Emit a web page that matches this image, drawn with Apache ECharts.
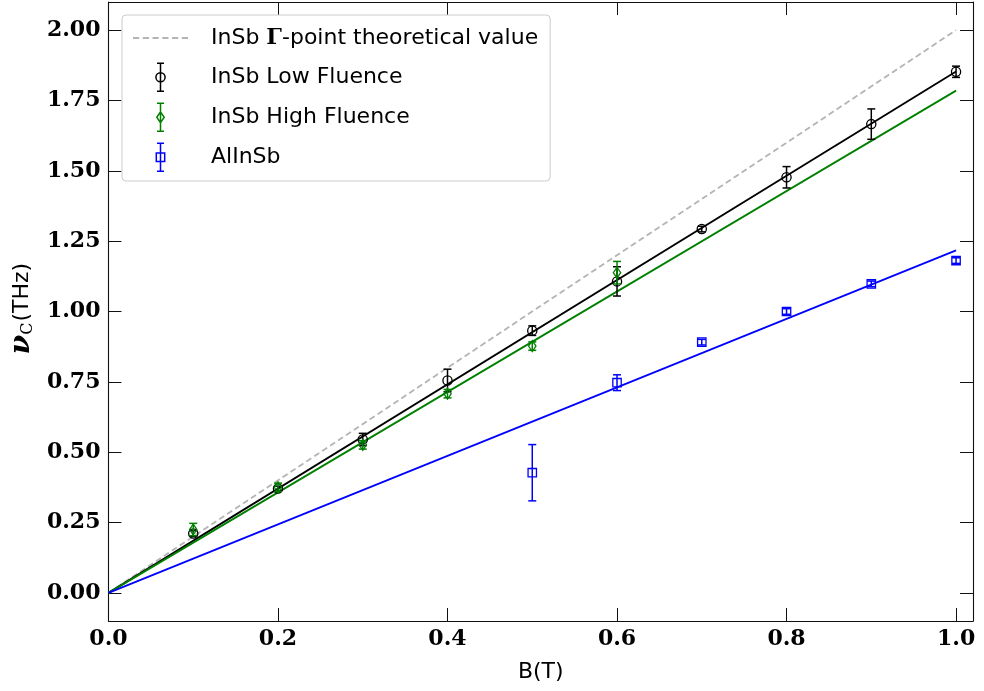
<!DOCTYPE html>
<html>
<head>
<meta charset="utf-8">
<script src="https://cdn.jsdelivr.net/npm/echarts@6/dist/echarts.min.js"></script>
<style>
html,body{margin:0;padding:0;background:#fff;}
#chart{width:984px;height:691px;}
</style>
</head>
<body>
<div id="chart"></div>
<script>
// ---- data ----
const xTicks = [0.0, 0.2, 0.4, 0.6, 0.8, 1.0];
const yTicks = [0.00, 0.25, 0.50, 0.75, 1.00, 1.25, 1.50, 1.75, 2.00];

const lowB   = [0.1, 0.2, 0.3, 0.4, 0.5, 0.6, 0.7, 0.8, 0.9, 1.0];
const lowNu  = [0.211, 0.371, 0.545, 0.755, 0.932, 1.107, 1.293, 1.477, 1.666, 1.852];
const lowErr = [0.010, 0.008, 0.022, 0.040, 0.017, 0.052, 0.010, 0.038, 0.054, 0.020];

const highB   = [0.1, 0.2, 0.3, 0.4, 0.5, 0.6];
const highNu  = [0.225, 0.375, 0.526, 0.708, 0.877, 1.138];
const highErr = [0.022, 0.015, 0.015, 0.015, 0.015, 0.040];

const alB   = [0.5, 0.6, 0.7, 0.8, 0.9, 1.0];
const alNu  = [0.427, 0.747, 0.891, 1.000, 1.098, 1.181];
const alErr = [0.100, 0.028, 0.010, 0.010, 0.010, 0.010];

const fitB      = [0.0, 1.0];
const theoryNu  = [0.0, 2.0];
const lowFitNu  = [0.0, 1.853];
const highFitNu = [0.0, 1.785];
const alFitNu   = [0.0, 1.217];

const NAME_THEORY = 'InSb Γ-point theoretical value';
const NAME_LOW = 'InSb Low Fluence';
const NAME_HIGH = 'InSb High Fluence';
const NAME_AL = 'AlInSb';

// ---- helpers ----
const zip2 = (a, b) => a.map((v, i) => [v, b[i]]);
const zip3 = (a, b, c) => a.map((v, i) => [v, b[i], c[i]]);

function errRender(shape, color) {
  return function (params, api) {
    const x = api.value(0), y = api.value(1), e = api.value(2);
    const p = api.coord([x, y]);
    const t = api.coord([x, y + e]);
    const b = api.coord([x, y - e]);
    const cw = 4;
    const ls = { stroke: color, lineWidth: 1.5, fill: null };
    const children = [
      { type: 'line', shape: { x1: t[0], y1: t[1], x2: b[0], y2: b[1] }, style: ls },
      { type: 'line', shape: { x1: t[0] - cw, y1: t[1], x2: t[0] + cw, y2: t[1] }, style: ls },
      { type: 'line', shape: { x1: b[0] - cw, y1: b[1], x2: b[0] + cw, y2: b[1] }, style: ls }
    ];
    const ms = { stroke: color, lineWidth: 1.3, fill: 'transparent' };
    if (shape === 'circle') {
      children.push({ type: 'circle', shape: { cx: p[0], cy: p[1], r: 4.6 }, style: ms });
    } else if (shape === 'diamond') {
      children.push({ type: 'polygon', shape: { points: [[p[0], p[1] - 5.4], [p[0] + 3.7, p[1]], [p[0], p[1] + 5.4], [p[0] - 3.7, p[1]]] }, style: ms });
    } else {
      children.push({ type: 'rect', shape: { x: p[0] - 4.2, y: p[1] - 4.2, width: 8.4, height: 8.4 }, style: ms });
    }
    return { type: 'group', children: children };
  };
}

const iconDash    = 'path://M0 0h6v1.8h-6zM9.5 0h6v1.8h-6zM19 0h6v1.8h-6zM28.5 0h6v1.8h-6zM38 0h6v1.8h-6zM47.5 0h6v1.8h-6z';
const iconCircle  = 'path://M5 0L5 28M1.5 0L8.5 0M1.5 28L8.5 28M5 9.4A4.6 4.6 0 1 1 5 18.6A4.6 4.6 0 1 1 5 9.4Z';
const iconDiamond = 'path://M5 0L5 28M1.5 0L8.5 0M1.5 28L8.5 28M5 8.6L8.7 14L5 19.4L1.3 14Z';
const iconSquare  = 'path://M5 0L5 28M1.5 0L8.5 0M1.5 28L8.5 28M0.8 9.8L9.2 9.8L9.2 18.2L0.8 18.2Z';

const tickStyle = { color: '#111', width: 1 };
const axisLineStyle = { color: '#111', width: 1.1 };

const chart = echarts.init(document.getElementById('chart'), null, { renderer: 'canvas' });

const option = {
  backgroundColor: '#fff',
  animation: false,
  grid: { left: 108, right: 11, top: 2, bottom: 70, containLabel: false },
  legend: {
    orient: 'vertical',
    left: 122,
    top: 15,
    padding: [9, 12, 9, 11],
    itemGap: 10.5,
    itemWidth: 55,
    itemHeight: 28,
    backgroundColor: 'rgba(255,255,255,0.85)',
    borderColor: '#cccccc',
    borderWidth: 1,
    borderRadius: 4,
    selectedMode: false,
    textStyle: {
      fontFamily: 'DejaVu Sans', fontSize: 22, lineHeight: 28, color: '#000', padding: [0, 0, 0, 18],
      rich: {
        a: { fontFamily: 'DejaVu Sans', fontSize: 22, lineHeight: 28, color: '#000' },
        g: { fontFamily: 'DejaVu Serif', fontWeight: 'bold', fontSize: 22, lineHeight: 28, color: '#000' }
      }
    },
    formatter: function (name) {
      if (name === NAME_THEORY) return '{a|InSb }{g|Γ}{a|-point theoretical value}';
      return name;
    },
    data: [
      { name: NAME_THEORY, icon: iconDash, itemStyle: { color: '#b4b4b4', borderWidth: 0 } },
      { name: NAME_LOW, icon: iconCircle, itemStyle: { color: 'transparent', borderColor: '#000', borderWidth: 1.5 } },
      { name: NAME_HIGH, icon: iconDiamond, itemStyle: { color: 'transparent', borderColor: '#008000', borderWidth: 1.5 } },
      { name: NAME_AL, icon: iconSquare, itemStyle: { color: 'transparent', borderColor: '#0000ff', borderWidth: 1.5 } }
    ]
  },
  xAxis: [
    {
      type: 'value', min: 0, max: 1.02, position: 'bottom',
      axisLine: { show: true, onZero: false, lineStyle: axisLineStyle },
      axisTick: { show: true, inside: true, length: 13, customValues: xTicks, lineStyle: tickStyle },
      axisLabel: {
        customValues: xTicks, margin: 7,
        formatter: v => v.toFixed(1),
        fontFamily: 'DejaVu Serif', fontWeight: 'bold', fontSize: 22, color: '#000'
      },
      splitLine: { show: false },
      name: 'B(T)', nameLocation: 'middle', nameGap: 40,
      nameTextStyle: { fontFamily: 'DejaVu Sans', fontSize: 22, color: '#000' }
    },
    {
      type: 'value', min: 0, max: 1.02, position: 'top',
      axisLine: { show: true, onZero: false, lineStyle: axisLineStyle },
      axisTick: { show: true, inside: true, length: 13, customValues: xTicks, lineStyle: tickStyle },
      axisLabel: { show: false },
      splitLine: { show: false }
    }
  ],
  yAxis: [
    {
      type: 'value', min: -0.1, max: 2.1, position: 'left',
      axisLine: { show: true, onZero: false, lineStyle: axisLineStyle },
      axisTick: { show: true, inside: true, length: 13, customValues: yTicks, lineStyle: tickStyle },
      axisLabel: {
        customValues: yTicks, margin: 8,
        formatter: v => v.toFixed(2),
        fontFamily: 'DejaVu Serif', fontWeight: 'bold', fontSize: 22, color: '#000'
      },
      splitLine: { show: false },
      name: '{nu|ν}{c|C}{t|(THz)}', nameLocation: 'middle', nameGap: 66, nameRotate: 90,
      nameTextStyle: {
        color: '#000', padding: [0, 0, 0, 6],
        rich: {
          nu: { fontFamily: 'DejaVu Serif', fontStyle: 'italic', fontWeight: 'bold', fontSize: 28, color: '#000' },
          c: { fontFamily: 'DejaVu Serif', fontSize: 16, color: '#000', padding: [11, 1, 0, 0] },
          t: { fontFamily: 'DejaVu Sans', fontSize: 22, color: '#000' }
        }
      }
    },
    {
      type: 'value', min: -0.1, max: 2.1, position: 'right',
      axisLine: { show: true, onZero: false, lineStyle: axisLineStyle },
      axisTick: { show: true, inside: true, length: 13, customValues: yTicks, lineStyle: tickStyle },
      axisLabel: { show: false },
      splitLine: { show: false }
    }
  ],
  series: [
    {
      name: NAME_THEORY, type: 'line', data: zip2(fitB, theoryNu), symbol: 'none',
      lineStyle: { color: '#b4b4b4', width: 1.8, type: [6, 3.5] }, itemStyle: { color: '#b4b4b4' }, z: 2
    },
    {
      name: 'lowFit', type: 'line', data: zip2(fitB, lowFitNu), symbol: 'none',
      lineStyle: { color: '#000', width: 1.8 }, z: 3
    },
    {
      name: 'highFit', type: 'line', data: zip2(fitB, highFitNu), symbol: 'none',
      lineStyle: { color: '#008000', width: 1.8 }, z: 3
    },
    {
      name: 'alFit', type: 'line', data: zip2(fitB, alFitNu), symbol: 'none',
      lineStyle: { color: '#0000ff', width: 1.8 }, z: 3
    },
    {
      name: NAME_LOW, type: 'custom', renderItem: errRender('circle', '#000'),
      data: zip3(lowB, lowNu, lowErr), itemStyle: { color: '#000' }, z: 5, encode: { x: 0, y: 1 }
    },
    {
      name: NAME_HIGH, type: 'custom', renderItem: errRender('diamond', '#008000'),
      data: zip3(highB, highNu, highErr), itemStyle: { color: '#008000' }, z: 6, encode: { x: 0, y: 1 }
    },
    {
      name: NAME_AL, type: 'custom', renderItem: errRender('square', '#0000ff'),
      data: zip3(alB, alNu, alErr), itemStyle: { color: '#0000ff' }, z: 5, encode: { x: 0, y: 1 }
    }
  ]
};
chart.setOption(option);
</script>
</body>
</html>
